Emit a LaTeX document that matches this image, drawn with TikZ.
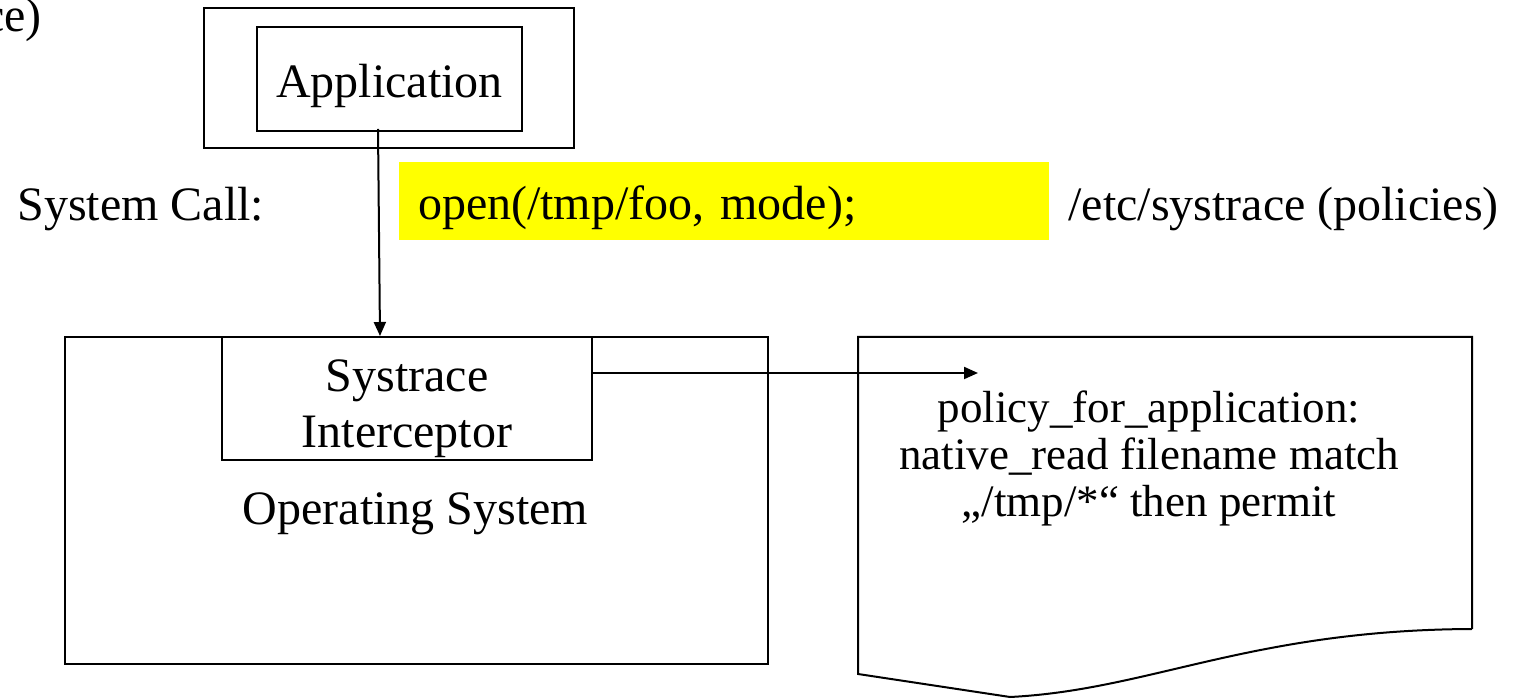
\documentclass[tikz,border=0pt]{standalone}
\usepackage{fontspec}
\setmainfont{Liberation Serif}
\usetikzlibrary{arrows.meta}
\tikzstyle{box} = [rectangle, draw=black, line width=1pt, inner sep=0pt]
\tikzstyle{txt} = [font=\fontsize{24}{27.6}\selectfont, inner sep=0pt, align=center]
\tikzstyle{arrow} = [line width=1pt, -{Triangle[length=7pt,width=6pt]}]
\definecolor{colorCall}{RGB}{255, 255, 0}

\begin{document}
\begin{tikzpicture}[x=0.5pt, y=-0.5pt]

	\useasboundingbox (0,0) rectangle (1522,699);

	% cut-off caption
	\node (cutLabel)[txt, anchor=base east] at (42,32) {ce)};

	% application
	\node (appOuter)[box, minimum width=185pt, minimum height=70pt] at (389,78) {};
	\node (app)[box, txt, minimum width=132.5pt, text height=35.5pt, text depth=16.5pt, anchor=north] at (389.5,26) {Application};

	% system call line
	\node (sysLabel)[txt, anchor=base west] at (17,221) {System Call:};
	\node (sysCall)[txt, fill=colorCall, minimum width=325pt, text height=28.5pt, text depth=10.5pt, text width=306pt, align=left, inner xsep=9.5pt, anchor=north] at (724,162) {open(/tmp/foo, mode);};
	\node (policyPath)[txt, anchor=base west] at (1068,221) {/etc/systrace (policies)};

	% operating system
	\node (os)[box, minimum width=351.5pt, minimum height=163.5pt] at (416.5,500.5) {};
	\node (interceptor)[box, minimum width=185pt, minimum height=61.5pt] at (407,398.5) {};
	\node (interceptorText)[txt, font=\fontsize{24}{28}\selectfont] at (407,409) {Systrace\\Interceptor};
	\node (osLabel)[txt, anchor=base] at (415.5,525) {Operating System};

	% policy document
	\draw[line width=1pt] (1472,629) -- (1472,337) -- (858,337) -- (858,674)
		-- (1010,697) .. controls (1150,690) and (1250,630) .. (1472,629);
	\node (policyText)[txt, font=\fontsize{22.5}{23.5}\selectfont] at (1149,458) {policy\_for\_application:\\native\_read filename match\\„/tmp/*“ then permit};
	\coordinate (policyIn) at (978,373);

	% lines and arrows
	\draw[arrow] ([xshift=-5.75pt, yshift=1.5pt]app.south) -- ([xshift=-13.5pt]interceptor.north);
	\draw[arrow] (interceptor.east |- policyIn) -- (policyIn);

\end{tikzpicture}
\end{document}
